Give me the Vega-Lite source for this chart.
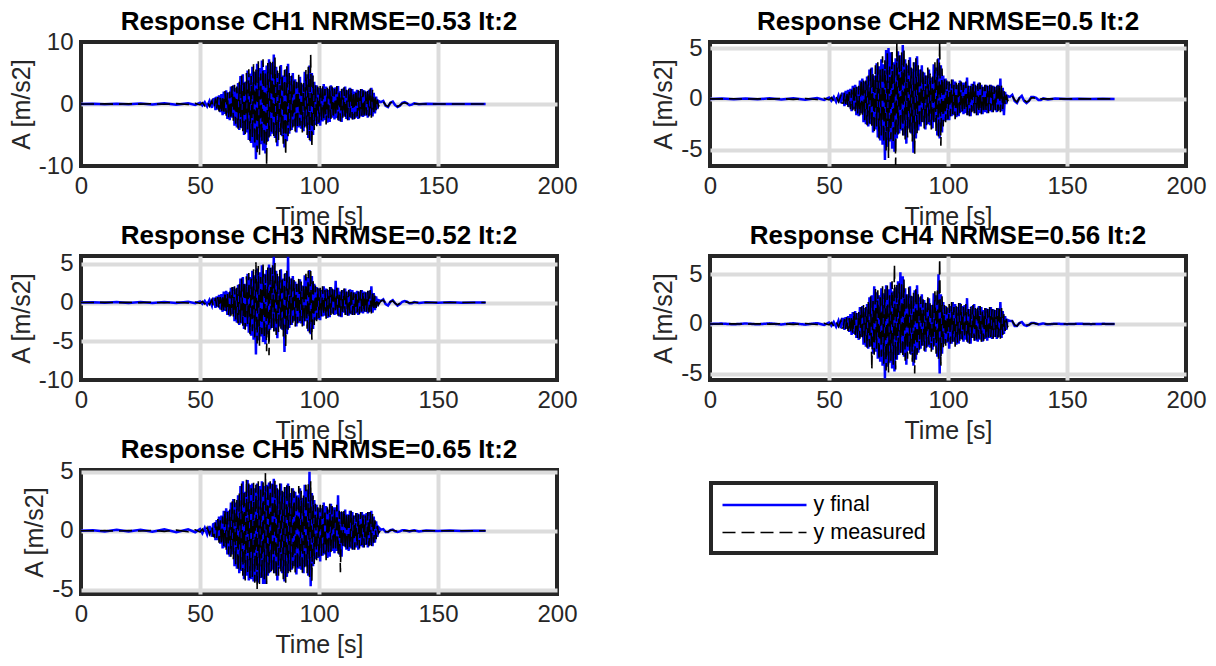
{
"$schema": "https://vega.github.io/schema/vega-lite/v6.json",
"padding": {"left": 7, "top": 7, "right": 5, "bottom": 5},
"background": "white",
"config": {
 "font": "Liberation Sans",
 "view": {"stroke": "#262626", "strokeWidth": 4},
 "axis": {"domain": false, "ticks": false, "grid": true, "gridColor": "#dcdcdc", "gridWidth": 4, "labelFontSize": 24, "labelColor": "#262626", "labelFont": "Liberation Sans", "titleFont": "Liberation Sans", "titleFontSize": 25, "titleFontWeight": "normal", "titleColor": "#262626"},
 "axisX": {"labelPadding": 8, "titlePadding": 6, "labelFlush": false},
 "axisY": {"labelPadding": 8, "titlePadding": 4},
 "title": {"fontSize": 26, "fontWeight": "bold", "color": "#000000", "offset": -5, "anchor": "middle", "frame": "group", "font": "Liberation Sans"}
},
"columns": 2,
"spacing": {"row": 90, "column": 153},
"bounds": "flush",
"datasets": {
"d": [
{"t":0,"f1":0,"m1":0,"f2":0,"m2":0,"f3":0,"m3":0,"f4":0,"m4":0,"f5":0,"m5":0},
{"t":5,"f1":0.05,"m1":0,"f2":0.04,"m2":0,"f3":0.04,"m3":0,"f4":0.04,"m4":0,"f5":0.05,"m5":0},
{"t":10,"f1":-0.05,"m1":0.02,"f2":-0.04,"m2":0.02,"f3":-0.04,"m3":0.02,"f4":-0.04,"m4":0.02,"f5":-0.06,"m5":0.02},
{"t":15,"f1":0.06,"m1":-0.03,"f2":0.05,"m2":-0.02,"f3":0.05,"m3":-0.02,"f4":0.05,"m4":-0.02,"f5":0.08,"m5":-0.03},
{"t":20,"f1":-0.05,"m1":0.03,"f2":-0.04,"m2":0.02,"f3":-0.05,"m3":0.02,"f4":-0.04,"m4":0.02,"f5":-0.06,"m5":0.03},
{"t":25,"f1":0.08,"m1":-0.02,"f2":0.06,"m2":-0.02,"f3":0.06,"m3":-0.02,"f4":0.06,"m4":-0.02,"f5":0.08,"m5":-0.02},
{"t":30,"f1":-0.06,"m1":0.04,"f2":-0.05,"m2":0.03,"f3":-0.05,"m3":0.03,"f4":-0.05,"m4":0.03,"f5":-0.07,"m5":0.04},
{"t":35,"f1":0.1,"m1":-0.05,"f2":0.07,"m2":-0.04,"f3":0.07,"m3":-0.04,"f4":0.07,"m4":-0.04,"f5":0.12,"m5":-0.05},
{"t":40,"f1":-0.1,"m1":0.06,"f2":-0.07,"m2":0.04,"f3":-0.07,"m3":0.04,"f4":-0.07,"m4":0.04,"f5":-0.12,"m5":0.06},
{"t":45,"f1":0.12,"m1":-0.08,"f2":0.08,"m2":-0.06,"f3":0.08,"m3":-0.06,"f4":0.08,"m4":-0.06,"f5":0.12,"m5":-0.08},
{"t":48,"f1":-0.15,"m1":0.1,"f2":-0.1,"m2":0.07,"f3":-0.1,"m3":0.07,"f4":-0.1,"m4":0.07,"f5":-0.12,"m5":0.08},
{"t":50,"f1":0.2,"m1":-0.15,"f2":0.14,"m2":-0.1,"f3":0.14,"m3":-0.1,"f4":0.14,"m4":-0.1,"f5":0.15,"m5":-0.1},
{"t":51,"f1":-0.25,"m1":0.2,"f2":-0.18,"m2":0.14,"f3":-0.18,"m3":0.14,"f4":-0.18,"m4":0.14,"f5":-0.2,"m5":0.15},
{"t":52,"f1":0.3,"m1":-0.3,"f2":0.2,"m2":-0.2,"f3":0.2,"m3":-0.2,"f4":0.2,"m4":-0.2,"f5":0.25,"m5":-0.2},
{"t":53,"f1":-0.4,"m1":0.35,"f2":-0.28,"m2":0.25,"f3":-0.28,"m3":0.25,"f4":-0.28,"m4":0.25,"f5":-0.3,"m5":0.28},
{"t":54,"f1":0.5,"m1":-0.4,"f2":0.35,"m2":-0.28,"f3":0.35,"m3":-0.28,"f4":0.35,"m4":-0.28,"f5":0.4,"m5":-0.3},
{"t":55,"f1":-0.6,"m1":0.5,"f2":-0.42,"m2":0.35,"f3":-0.42,"m3":0.35,"f4":-0.42,"m4":0.35,"f5":-0.5,"m5":0.4},
{"t":55.5,"f1":0.7,"m1":-0.6,"f2":0.5,"m2":-0.42,"f3":0.5,"m3":-0.42,"f4":0.5,"m4":-0.42,"f5":0.55,"m5":-0.45},
{"t":56,"f1":0.8,"m1":-0.6,"f2":0.5,"m2":-0.4,"f3":0.5,"m3":-0.4,"f4":0.5,"m4":-0.4,"f5":0.6,"m5":-0.5},
{"t":56.5,"f1":-1.0,"m1":0.9,"f2":-0.7,"m2":0.6,"f3":-0.7,"m3":0.6,"f4":-0.6,"m4":0.5,"f5":-0.8,"m5":0.7},
{"t":57,"f1":1.2,"m1":-0.8,"f2":0.8,"m2":-0.5,"f3":0.8,"m3":-0.5,"f4":0.7,"m4":-0.5,"f5":0.9,"m5":-0.6},
{"t":57.5,"f1":-0.9,"m1":1.1,"f2":-0.6,"m2":0.7,"f3":-0.6,"m3":0.7,"f4":-0.5,"m4":0.7,"f5":-0.8,"m5":1.0},
{"t":58,"f1":1.4,"m1":-1.2,"f2":0.9,"m2":-0.8,"f3":1.0,"m3":-0.8,"f4":0.8,"m4":-0.7,"f5":1.2,"m5":-1.0},
{"t":58.5,"f1":-1.3,"m1":1.0,"f2":-0.8,"m2":0.7,"f3":-0.9,"m3":0.7,"f4":-0.8,"m4":0.6,"f5":-1.1,"m5":0.9},
{"t":59,"f1":1.6,"m1":-1.5,"f2":1.0,"m2":-1.0,"f3":1.1,"m3":-1.0,"f4":1.0,"m4":-0.9,"f5":1.3,"m5":-1.2},
{"t":59.5,"f1":-1.8,"m1":1.4,"f2":-1.2,"m2":0.9,"f3":-1.2,"m3":1.0,"f4":-1.1,"m4":0.8,"f5":-1.5,"m5":1.2},
{"t":60,"f1":2.0,"m1":-1.7,"f2":1.3,"m2":-1.1,"f3":1.4,"m3":-1.2,"f4":1.2,"m4":-1.0,"f5":1.7,"m5":-1.4},
{"t":60.5,"f1":-1.6,"m1":2.1,"f2":-1.0,"m2":1.4,"f3":-1.1,"m3":1.4,"f4":-1.0,"m4":1.3,"f5":-1.4,"m5":1.8},
{"t":61,"f1":2.2,"m1":-1.9,"f2":1.4,"m2":-1.2,"f3":1.5,"m3":-1.3,"f4":1.3,"m4":-1.1,"f5":1.9,"m5":-1.6},
{"t":61.5,"f1":-2.4,"m1":1.8,"f2":-1.6,"m2":1.2,"f3":-1.6,"m3":1.2,"f4":-1.4,"m4":1.1,"f5":-2.0,"m5":1.6},
{"t":62,"f1":1.9,"m1":-2.3,"f2":1.2,"m2":-1.5,"f3":1.3,"m3":-1.6,"f4":1.1,"m4":-1.4,"f5":1.7,"m5":-2.0},
{"t":62.5,"f1":-2.6,"m1":2.0,"f2":-1.7,"m2":1.3,"f3":-1.8,"m3":1.4,"f4":-1.6,"m4":1.2,"f5":-2.2,"m5":1.8},
{"t":63,"f1":2.8,"m1":-2.5,"f2":1.8,"m2":-1.6,"f3":1.9,"m3":-1.7,"f4":1.7,"m4":-1.5,"f5":2.4,"m5":-2.2},
{"t":63.5,"f1":-2.2,"m1":2.9,"f2":-1.4,"m2":1.9,"f3":-1.5,"m3":2.0,"f4":-1.3,"m4":1.7,"f5":-2.0,"m5":2.5},
{"t":64,"f1":3.0,"m1":-2.7,"f2":2.0,"m2":-1.8,"f3":2.0,"m3":-1.8,"f4":1.8,"m4":-1.6,"f5":2.7,"m5":-2.4},
{"t":64.5,"f1":-3.5,"m1":3.1,"f2":-2.3,"m2":2.0,"f3":-2.4,"m3":2.1,"f4":-2.1,"m4":1.9,"f5":-3.0,"m5":2.7},
{"t":65,"f1":2.6,"m1":-3.2,"f2":1.7,"m2":-2.1,"f3":1.8,"m3":-2.2,"f4":1.6,"m4":-1.9,"f5":2.4,"m5":-2.9},
{"t":65.5,"f1":-3.8,"m1":2.8,"f2":-2.5,"m2":1.8,"f3":-2.6,"m3":1.9,"f4":-2.3,"m4":1.7,"f5":-3.2,"m5":2.6},
{"t":66,"f1":3.4,"m1":-4.0,"f2":2.2,"m2":-2.6,"f3":2.3,"m3":-2.7,"f4":2.0,"m4":-2.4,"f5":3.0,"m5":-3.4},
{"t":66.5,"f1":-4.2,"m1":3.6,"f2":-2.7,"m2":2.3,"f3":-2.9,"m3":2.4,"f4":-2.5,"m4":2.2,"f5":-3.6,"m5":3.2},
{"t":67,"f1":4.5,"m1":-3.8,"f2":2.9,"m2":-2.5,"f3":3.1,"m3":-2.6,"f4":2.7,"m4":-2.3,"f5":3.8,"m5":-3.3},
{"t":67.5,"f1":-3.9,"m1":4.6,"f2":-2.5,"m2":3.0,"f3":-2.7,"m3":3.1,"f4":-2.3,"m4":2.8,"f5":-3.4,"m5":4.0},
{"t":68,"f1":4.8,"m1":-4.4,"f2":3.1,"m2":-2.9,"f3":3.3,"m3":-3.0,"f4":2.9,"m4":-4.6,"f5":4.2,"m5":-3.8},
{"t":68.5,"f1":-5.0,"m1":3.9,"f2":-3.3,"m2":2.5,"f3":-3.4,"m3":2.7,"f4":-3.0,"m4":2.3,"f5":-4.1,"m5":3.4},
{"t":69,"f1":3.6,"m1":-5.2,"f2":2.3,"m2":-3.4,"f3":2.4,"m3":-3.5,"f4":3.8,"m4":-3.1,"f5":3.3,"m5":-4.2},
{"t":69.5,"f1":-4.6,"m1":5.0,"f2":-3.0,"m2":3.3,"f3":-3.1,"m3":3.4,"f4":-2.8,"m4":3.7,"f5":-3.8,"m5":4.4},
{"t":70,"f1":5.4,"m1":-4.1,"f2":3.5,"m2":-2.7,"f3":3.7,"m3":-2.8,"f4":3.2,"m4":-2.5,"f5":4.3,"m5":-3.6},
{"t":70.5,"f1":-5.8,"m1":5.6,"f2":-3.8,"m2":3.6,"f3":-3.9,"m3":3.8,"f4":-3.5,"m4":3.4,"f5":-4.2,"m5":4.0},
{"t":71,"f1":4.9,"m1":-6.0,"f2":3.2,"m2":-3.9,"f3":3.3,"m3":-4.1,"f4":2.9,"m4":-3.6,"f5":3.9,"m5":-4.0},
{"t":71.5,"f1":-6.3,"m1":4.5,"f2":-4.1,"m2":2.9,"f3":-4.3,"m3":3.1,"f4":-3.8,"m4":2.7,"f5":-4.1,"m5":3.6},
{"t":72,"f1":6.0,"m1":-5.5,"f2":3.9,"m2":-3.6,"f3":4.1,"m3":-3.7,"f4":3.6,"m4":-3.3,"f5":4.0,"m5":-3.9},
{"t":72.5,"f1":-7.0,"m1":6.4,"f2":-4.5,"m2":4.2,"f3":-4.8,"m3":4.3,"f4":-4.2,"m4":3.8,"f5":-4.3,"m5":4.1},
{"t":73,"f1":5.2,"m1":-6.6,"f2":3.4,"m2":-4.3,"f3":3.5,"m3":-4.5,"f4":3.1,"m4":-4.0,"f5":3.6,"m5":-4.4},
{"t":73.5,"f1":-8.9,"m1":5.8,"f2":-6.0,"m2":3.8,"f3":-6.7,"m3":5.2,"f4":-5.5,"m4":3.5,"f5":-4.3,"m5":3.9},
{"t":74,"f1":6.5,"m1":-7.8,"f2":4.8,"m2":-5.1,"f3":4.4,"m3":-5.3,"f4":3.9,"m4":-4.7,"f5":4.0,"m5":-5.0},
{"t":74.5,"f1":-7.2,"m1":6.9,"f2":-4.7,"m2":4.5,"f3":-4.9,"m3":4.7,"f4":-4.3,"m4":4.1,"f5":-4.4,"m5":4.2},
{"t":75,"f1":5.8,"m1":-8.2,"f2":5.0,"m2":-5.8,"f3":3.9,"m3":-5.6,"f4":3.5,"m4":-4.9,"f5":3.8,"m5":-4.5},
{"t":75.5,"f1":-6.5,"m1":4.9,"f2":-4.2,"m2":3.2,"f3":-4.4,"m3":3.3,"f4":-3.9,"m4":2.9,"f5":-4.0,"m5":3.5},
{"t":76,"f1":7.0,"m1":-6.1,"f2":4.6,"m2":-4.0,"f3":4.8,"m3":-4.1,"f4":4.2,"m4":-3.7,"f5":4.2,"m5":-4.0},
{"t":76.5,"f1":-7.5,"m1":7.2,"f2":-4.9,"m2":4.7,"f3":-5.1,"m3":4.9,"f4":-4.5,"m4":4.3,"f5":-4.5,"m5":4.3},
{"t":77,"f1":5.5,"m1":-6.8,"f2":3.6,"m2":-4.4,"f3":3.7,"m3":-4.6,"f4":3.3,"m4":-4.1,"f5":3.8,"m5":-4.1},
{"t":77.5,"f1":-8.0,"m1":5.3,"f2":-5.2,"m2":3.4,"f3":-5.4,"m3":3.6,"f4":-4.8,"m4":6.0,"f5":-4.5,"m5":4.9},
{"t":78,"f1":6.2,"m1":-9.9,"f2":4.0,"m2":-6.5,"f3":4.2,"m3":-6.3,"f4":3.7,"m4":-4.6,"f5":3.9,"m5":-4.5},
{"t":78.5,"f1":-6.0,"m1":6.6,"f2":-3.9,"m2":5.5,"f3":-4.1,"m3":4.5,"f4":-3.6,"m4":4.0,"f5":-3.8,"m5":4.0},
{"t":79,"f1":7.2,"m1":-5.4,"f2":4.7,"m2":-3.5,"f3":4.9,"m3":-6.8,"f4":4.3,"m4":-3.2,"f5":4.1,"m5":-3.6},
{"t":79.5,"f1":-5.2,"m1":6.8,"f2":-3.4,"m2":4.4,"f3":-3.5,"m3":4.6,"f4":-3.1,"m4":4.1,"f5":-3.5,"m5":4.2},
{"t":80,"f1":6.6,"m1":-4.9,"f2":4.3,"m2":-3.2,"f3":4.5,"m3":-3.3,"f4":5.2,"m4":-2.9,"f5":4.0,"m5":-3.4},
{"t":80.5,"f1":-4.8,"m1":7.0,"f2":-3.1,"m2":4.6,"f3":-3.3,"m3":4.8,"f4":-2.9,"m4":4.2,"f5":-3.3,"m5":4.2},
{"t":81,"f1":8.0,"m1":-5.6,"f2":5.3,"m2":-3.6,"f3":5.9,"m3":-3.8,"f4":4.8,"m4":-3.4,"f5":4.4,"m5":-3.7},
{"t":81.5,"f1":-5.5,"m1":7.5,"f2":-3.6,"m2":4.9,"f3":-3.7,"m3":5.1,"f4":-3.3,"m4":4.5,"f5":-3.6,"m5":4.3},
{"t":82,"f1":6.0,"m1":-6.2,"f2":3.9,"m2":-4.0,"f3":4.1,"m3":-4.2,"f4":3.6,"m4":-3.7,"f5":3.9,"m5":-4.0},
{"t":82.5,"f1":-6.8,"m1":5.4,"f2":-4.4,"m2":3.5,"f3":-4.6,"m3":3.7,"f4":-4.1,"m4":3.2,"f5":-4.2,"m5":3.6},
{"t":83,"f1":5.0,"m1":-5.8,"f2":3.3,"m2":-3.8,"f3":3.4,"m3":-3.9,"f4":3.0,"m4":-3.5,"f5":3.5,"m5":-3.8},
{"t":83.5,"f1":-4.5,"m1":6.2,"f2":-2.9,"m2":4.0,"f3":-3.1,"m3":4.2,"f4":-2.7,"m4":3.7,"f5":-3.2,"m5":4.0},
{"t":84,"f1":6.3,"m1":-5.0,"f2":4.1,"m2":-3.3,"f3":4.3,"m3":-3.4,"f4":3.8,"m4":-3.0,"f5":4.0,"m5":-3.5},
{"t":84.5,"f1":-5.2,"m1":4.8,"f2":-3.4,"m2":3.1,"f3":-3.5,"m3":3.3,"f4":-3.1,"m4":2.9,"f5":-3.6,"m5":3.4},
{"t":85,"f1":4.6,"m1":-6.4,"f2":3.0,"m2":-4.2,"f3":3.1,"m3":-4.4,"f4":2.8,"m4":-3.8,"f5":3.3,"m5":-4.1},
{"t":85.5,"f1":-7.0,"m1":5.5,"f2":-5.3,"m2":3.6,"f3":-6.4,"m3":3.7,"f4":-4.2,"m4":3.3,"f5":-4.3,"m5":3.7},
{"t":86,"f1":5.6,"m1":-8.3,"f2":3.6,"m2":-5.4,"f3":3.8,"m3":-5.6,"f4":3.4,"m4":-5.0,"f5":3.7,"m5":-4.4},
{"t":86.5,"f1":-6.0,"m1":6.1,"f2":-3.9,"m2":4.0,"f3":-4.1,"m3":4.1,"f4":-3.6,"m4":3.7,"f5":-3.9,"m5":4.0},
{"t":87,"f1":6.5,"m1":-5.2,"f2":4.2,"m2":-3.4,"f3":5.9,"m3":-3.5,"f4":3.9,"m4":-3.1,"f5":4.0,"m5":-3.6},
{"t":87.5,"f1":-4.8,"m1":5.0,"f2":-3.1,"m2":3.3,"f3":-3.3,"m3":3.4,"f4":-2.9,"m4":3.0,"f5":-3.4,"m5":3.8},
{"t":88,"f1":4.5,"m1":-4.3,"f2":2.9,"m2":-2.8,"f3":3.1,"m3":-2.9,"f4":2.7,"m4":-2.6,"f5":3.2,"m5":-3.5},
{"t":88.5,"f1":-4.2,"m1":4.6,"f2":-2.7,"m2":3.0,"f3":-2.9,"m3":3.1,"f4":-2.5,"m4":2.8,"f5":-3.3,"m5":3.6},
{"t":89,"f1":5.0,"m1":-3.8,"f2":3.3,"m2":-2.5,"f3":3.4,"m3":-2.6,"f4":3.0,"m4":-2.3,"f5":3.6,"m5":-3.2},
{"t":89.5,"f1":-3.6,"m1":4.2,"f2":-2.3,"m2":2.7,"f3":-2.4,"m3":2.9,"f4":-2.2,"m4":2.5,"f5":-3.0,"m5":3.4},
{"t":90,"f1":4.0,"m1":-4.5,"f2":2.6,"m2":-2.9,"f3":2.7,"m3":-3.1,"f4":2.4,"m4":-2.7,"f5":3.3,"m5":-3.6},
{"t":90.5,"f1":-4.6,"m1":3.6,"f2":-3.0,"m2":2.3,"f3":-3.1,"m3":2.4,"f4":-2.8,"m4":2.2,"f5":-3.7,"m5":3.1},
{"t":91,"f1":3.5,"m1":-4.0,"f2":2.3,"m2":-2.6,"f3":2.4,"m3":-2.7,"f4":2.1,"m4":-2.4,"f5":3.0,"m5":-3.3},
{"t":91.5,"f1":-3.8,"m1":4.8,"f2":-2.5,"m2":3.1,"f3":-2.6,"m3":3.3,"f4":-2.3,"m4":2.9,"f5":-3.2,"m5":3.8},
{"t":92,"f1":4.4,"m1":-3.5,"f2":2.9,"m2":-2.3,"f3":3.0,"m3":-2.4,"f4":2.6,"m4":-2.1,"f5":3.6,"m5":-3.0},
{"t":92.5,"f1":-4.0,"m1":3.9,"f2":-2.6,"m2":2.5,"f3":-2.7,"m3":2.7,"f4":-2.4,"m4":2.3,"f5":-3.3,"m5":3.4},
{"t":93,"f1":3.2,"m1":-4.6,"f2":2.1,"m2":-3.0,"f3":2.2,"m3":-3.1,"f4":1.9,"m4":-2.8,"f5":2.8,"m5":-3.7},
{"t":93.5,"f1":-4.4,"m1":3.4,"f2":-2.9,"m2":2.2,"f3":-3.0,"m3":2.3,"f4":-2.6,"m4":2.0,"f5":-3.6,"m5":3.0},
{"t":94,"f1":5.2,"m1":-3.8,"f2":3.4,"m2":-2.5,"f3":3.5,"m3":-2.6,"f4":3.1,"m4":-2.3,"f5":3.9,"m5":-3.2},
{"t":94.5,"f1":-3.6,"m1":5.5,"f2":-2.3,"m2":3.6,"f3":-2.4,"m3":3.7,"f4":-2.2,"m4":3.3,"f5":-3.0,"m5":3.9},
{"t":95,"f1":4.8,"m1":-5.0,"f2":3.1,"m2":-3.3,"f3":3.3,"m3":-3.4,"f4":2.9,"m4":-3.0,"f5":3.5,"m5":-3.6},
{"t":95.5,"f1":-5.5,"m1":6.0,"f2":-3.6,"m2":3.9,"f3":-3.7,"m3":4.1,"f4":-3.3,"m4":3.6,"f5":-3.8,"m5":4.0},
{"t":96,"f1":6.2,"m1":-5.8,"f2":4.0,"m2":-3.8,"f3":4.2,"m3":-3.9,"f4":5.0,"m4":-3.5,"f5":5.0,"m5":-3.9},
{"t":96.5,"f1":-6.0,"m1":8.0,"f2":-3.9,"m2":5.6,"f3":-4.1,"m3":4.3,"f4":-5.0,"m4":6.6,"f5":-4.7,"m5":4.2},
{"t":97,"f1":5.0,"m1":-7.0,"f2":3.3,"m2":-4.6,"f3":3.4,"m3":-4.8,"f4":3.0,"m4":-4.2,"f5":3.2,"m5":-4.3},
{"t":97.5,"f1":-5.0,"m1":4.6,"f2":-3.3,"m2":3.0,"f3":-3.4,"m3":3.1,"f4":-3.0,"m4":2.8,"f5":-3.0,"m5":3.0},
{"t":98,"f1":3.6,"m1":-4.2,"f2":2.3,"m2":-2.7,"f3":2.4,"m3":-2.9,"f4":2.2,"m4":-2.5,"f5":2.6,"m5":-2.8},
{"t":98.5,"f1":-3.4,"m1":3.2,"f2":-2.2,"m2":2.1,"f3":-2.3,"m3":2.2,"f4":-2.0,"m4":1.9,"f5":-2.4,"m5":2.3},
{"t":99,"f1":3.0,"m1":-3.6,"f2":2.0,"m2":-2.3,"f3":2.0,"m3":-2.4,"f4":1.8,"m4":-2.2,"f5":2.2,"m5":-2.5},
{"t":99.5,"f1":-3.2,"m1":2.8,"f2":-2.1,"m2":1.8,"f3":-2.2,"m3":1.9,"f4":-1.9,"m4":1.7,"f5":-2.3,"m5":2.0},
{"t":100,"f1":2.6,"m1":-3.0,"f2":1.7,"m2":-2.0,"f3":1.8,"m3":-2.0,"f4":1.6,"m4":-1.8,"f5":1.9,"m5":-2.2},
{"t":100.5,"f1":-3.5,"m1":2.9,"f2":-2.1,"m2":1.7,"f3":-2.3,"m3":1.9,"f4":-2.5,"m4":2.0,"f5":-2.6,"m5":2.2},
{"t":101,"f1":2.5,"m1":-2.8,"f2":1.5,"m2":-1.7,"f3":1.6,"m3":-1.8,"f4":1.8,"m4":-2.0,"f5":1.9,"m5":-2.1},
{"t":101.5,"f1":-2.8,"m1":3.2,"f2":-1.7,"m2":1.9,"f3":-1.8,"m3":2.1,"f4":-2.0,"m4":2.2,"f5":-2.1,"m5":2.4},
{"t":102,"f1":3.2,"m1":-2.5,"f2":1.9,"m2":-1.5,"f3":2.1,"m3":-1.6,"f4":2.2,"m4":-1.8,"f5":2.4,"m5":-1.9},
{"t":102.5,"f1":-2.6,"m1":2.4,"f2":-1.6,"m2":1.4,"f3":-1.7,"m3":1.6,"f4":-1.8,"m4":1.7,"f5":-2.0,"m5":1.8},
{"t":103,"f1":2.8,"m1":-3.3,"f2":1.7,"m2":-2.0,"f3":1.8,"m3":-2.1,"f4":2.0,"m4":-2.3,"f5":2.1,"m5":-2.5},
{"t":103.5,"f1":-3.0,"m1":2.6,"f2":-1.8,"m2":1.6,"f3":-2.0,"m3":1.7,"f4":-2.1,"m4":1.8,"f5":-2.3,"m5":2.0},
{"t":104,"f1":2.4,"m1":-2.7,"f2":1.4,"m2":-1.6,"f3":1.6,"m3":-1.8,"f4":1.7,"m4":-1.9,"f5":1.8,"m5":-2.0},
{"t":104.5,"f1":-2.9,"m1":3.0,"f2":-1.7,"m2":1.8,"f3":-1.9,"m3":2.0,"f4":-2.0,"m4":2.1,"f5":-2.2,"m5":2.3},
{"t":105,"f1":3.0,"m1":-2.4,"f2":1.8,"m2":-1.4,"f3":2.0,"m3":-1.6,"f4":2.1,"m4":-1.7,"f5":2.3,"m5":-1.8},
{"t":105.5,"f1":-2.2,"m1":2.8,"f2":-1.3,"m2":1.7,"f3":-1.4,"m3":1.8,"f4":-1.5,"m4":2.0,"f5":-1.7,"m5":2.1},
{"t":106,"f1":2.6,"m1":-2.3,"f2":1.6,"m2":-1.4,"f3":1.7,"m3":-1.5,"f4":1.8,"m4":-1.6,"f5":2.0,"m5":-1.7},
{"t":106.5,"f1":-2.5,"m1":2.4,"f2":-1.5,"m2":1.4,"f3":-1.6,"m3":1.6,"f4":-1.8,"m4":1.7,"f5":-1.9,"m5":1.8},
{"t":107,"f1":2.7,"m1":-2.0,"f2":1.6,"m2":-1.2,"f3":2.8,"m3":-1.3,"f4":1.9,"m4":-1.4,"f5":2.0,"m5":-1.5},
{"t":107.5,"f1":-2.3,"m1":2.9,"f2":-1.4,"m2":1.7,"f3":-1.5,"m3":1.9,"f4":-1.6,"m4":2.0,"f5":-1.7,"m5":2.2},
{"t":108,"f1":2.9,"m1":-2.6,"f2":2.1,"m2":-1.6,"f3":1.9,"m3":-1.7,"f4":2.6,"m4":-1.8,"f5":3.0,"m5":-2.0},
{"t":108.5,"f1":-2.7,"m1":2.2,"f2":-1.6,"m2":1.3,"f3":-1.8,"m3":1.4,"f4":-1.9,"m4":1.5,"f5":-2.0,"m5":1.7},
{"t":109,"f1":2.1,"m1":-2.8,"f2":1.3,"m2":-1.7,"f3":1.4,"m3":-1.8,"f4":1.5,"m4":-2.0,"f5":1.6,"m5":-3.5},
{"t":109.5,"f1":-2.9,"m1":2.4,"f2":-1.7,"m2":1.4,"f3":-1.9,"m3":1.6,"f4":-2.0,"m4":1.7,"f5":-2.2,"m5":1.8},
{"t":110,"f1":2.5,"m1":-2.2,"f2":1.5,"m2":-1.3,"f3":1.6,"m3":-1.4,"f4":1.8,"m4":-1.5,"f5":1.6,"m5":-1.4},
{"t":110.5,"f1":-2.0,"m1":2.7,"f2":-1.2,"m2":1.6,"f3":-1.3,"m3":1.8,"f4":-1.4,"m4":1.9,"f5":-1.3,"m5":1.8},
{"t":111,"f1":2.8,"m1":-2.4,"f2":1.7,"m2":-1.4,"f3":1.8,"m3":-1.6,"f4":2.0,"m4":-1.7,"f5":1.8,"m5":-1.6},
{"t":111.5,"f1":-2.4,"m1":2.3,"f2":-1.4,"m2":1.4,"f3":-1.6,"m3":1.5,"f4":-1.7,"m4":1.6,"f5":-1.6,"m5":1.5},
{"t":112,"f1":2.2,"m1":-2.6,"f2":1.3,"m2":-1.6,"f3":1.4,"m3":-1.7,"f4":1.5,"m4":-1.8,"f5":1.4,"m5":-1.7},
{"t":112.5,"f1":-2.6,"m1":2.5,"f2":-1.6,"m2":1.5,"f3":-1.7,"m3":1.6,"f4":-1.8,"m4":1.8,"f5":-1.7,"m5":1.6},
{"t":113,"f1":2.6,"m1":-2.1,"f2":1.6,"m2":-1.3,"f3":1.7,"m3":-1.4,"f4":1.8,"m4":-1.5,"f5":1.7,"m5":-1.4},
{"t":113.5,"f1":-2.3,"m1":2.6,"f2":-1.4,"m2":1.6,"f3":-1.5,"m3":1.7,"f4":-1.6,"m4":1.8,"f5":-1.5,"m5":1.7},
{"t":114,"f1":2.4,"m1":-2.5,"f2":1.4,"m2":-1.5,"f3":1.6,"m3":-1.6,"f4":1.7,"m4":-1.8,"f5":1.6,"m5":-1.6},
{"t":114.5,"f1":-2.5,"m1":2.0,"f2":-1.5,"m2":1.2,"f3":-1.6,"m3":1.3,"f4":-1.8,"m4":1.4,"f5":-1.6,"m5":1.3},
{"t":115,"f1":2.0,"m1":-2.4,"f2":1.2,"m2":-1.4,"f3":1.3,"m3":-1.6,"f4":1.4,"m4":-1.7,"f5":1.3,"m5":-1.6},
{"t":115.5,"f1":-2.2,"m1":2.3,"f2":-1.3,"m2":1.4,"f3":-1.4,"m3":1.5,"f4":-1.5,"m4":1.6,"f5":-1.4,"m5":1.5},
{"t":116,"f1":2.3,"m1":-2.0,"f2":1.4,"m2":-1.2,"f3":1.5,"m3":-1.3,"f4":1.6,"m4":-1.4,"f5":1.5,"m5":-1.3},
{"t":116.5,"f1":-2.4,"m1":2.2,"f2":-1.4,"m2":1.3,"f3":-1.6,"m3":1.4,"f4":-1.7,"m4":1.5,"f5":-1.6,"m5":1.4},
{"t":117,"f1":2.1,"m1":-2.3,"f2":1.3,"m2":-1.4,"f3":1.4,"m3":-1.5,"f4":1.5,"m4":-1.6,"f5":1.4,"m5":-1.5},
{"t":117.5,"f1":-2.0,"m1":2.4,"f2":-1.2,"m2":1.4,"f3":-1.3,"m3":1.6,"f4":-1.4,"m4":1.7,"f5":-1.3,"m5":1.6},
{"t":118,"f1":2.4,"m1":-1.9,"f2":1.4,"m2":-1.1,"f3":1.6,"m3":-1.2,"f4":1.7,"m4":-1.3,"f5":1.6,"m5":-1.2},
{"t":118.5,"f1":-2.1,"m1":2.2,"f2":-1.3,"m2":1.3,"f3":-1.4,"m3":1.4,"f4":-1.5,"m4":1.5,"f5":-1.4,"m5":1.4},
{"t":119,"f1":2.2,"m1":-2.2,"f2":1.3,"m2":-1.3,"f3":1.4,"m3":-1.4,"f4":1.5,"m4":-1.5,"f5":1.4,"m5":-1.4},
{"t":119.5,"f1":-1.9,"m1":2.0,"f2":-1.1,"m2":1.2,"f3":-1.2,"m3":1.3,"f4":-1.3,"m4":1.4,"f5":-1.2,"m5":1.3},
{"t":120,"f1":2.0,"m1":-1.8,"f2":1.2,"m2":-1.1,"f3":1.3,"m3":-1.2,"f4":1.4,"m4":-1.3,"f5":1.5,"m5":-1.2},
{"t":120.5,"f1":-2.2,"m1":2.3,"f2":-1.3,"m2":1.4,"f3":-1.4,"m3":1.5,"f4":-1.5,"m4":1.6,"f5":-1.4,"m5":1.6},
{"t":121,"f1":2.3,"m1":-2.0,"f2":1.4,"m2":-1.2,"f3":1.5,"m3":-1.3,"f4":1.6,"m4":-1.4,"f5":1.6,"m5":-1.3},
{"t":121.5,"f1":-1.8,"m1":2.5,"f2":-1.1,"m2":1.5,"f3":-1.2,"m3":1.6,"f4":-1.3,"m4":1.8,"f5":-1.2,"m5":1.6},
{"t":122,"f1":2.6,"m1":-2.2,"f2":2.0,"m2":-1.3,"f3":2.1,"m3":-1.4,"f4":2.2,"m4":-1.5,"f5":1.7,"m5":-1.4},
{"t":122.5,"f1":-2.0,"m1":2.3,"f2":-1.2,"m2":1.4,"f3":-1.3,"m3":1.5,"f4":-1.4,"m4":1.6,"f5":-1.3,"m5":1.5},
{"t":123,"f1":1.8,"m1":-1.6,"f2":1.1,"m2":-1.0,"f3":1.2,"m3":-1.0,"f4":1.3,"m4":-1.1,"f5":1.2,"m5":-1.0},
{"t":123.5,"f1":-1.5,"m1":1.4,"f2":-1.6,"m2":0.8,"f3":-1.0,"m3":0.9,"f4":-1.0,"m4":1.0,"f5":-1.0,"m5":0.9},
{"t":124,"f1":1.2,"m1":-1.0,"f2":0.7,"m2":-0.6,"f3":0.8,"m3":-0.7,"f4":0.8,"m4":-0.7,"f5":0.8,"m5":-0.7},
{"t":124.5,"f1":-0.8,"m1":0.7,"f2":-0.5,"m2":0.4,"f3":-0.5,"m3":0.5,"f4":-0.6,"m4":0.5,"f5":-0.5,"m5":0.4},
{"t":125,"f1":0.5,"m1":-0.4,"f2":0.3,"m2":-0.2,"f3":0.3,"m3":-0.3,"f4":0.4,"m4":-0.3,"f5":0.3,"m5":-0.2},
{"t":126,"f1":0.3,"m1":0.3,"f2":0.2,"m2":0.2,"f3":0.2,"m3":0.2,"f4":0.3,"m4":0.2,"f5":0.1,"m5":0.1},
{"t":127,"f1":0.5,"m1":0.4,"f2":0.4,"m2":0.3,"f3":0.4,"m3":0.3,"f4":0.3,"m4":0.3,"f5":0.15,"m5":0.1},
{"t":128,"f1":-0.3,"m1":-0.2,"f2":-0.2,"m2":-0.1,"f3":-0.2,"m3":-0.1,"f4":-0.2,"m4":-0.1,"f5":-0.1,"m5":-0.05},
{"t":129,"f1":-0.5,"m1":-0.4,"f2":-0.4,"m2":-0.3,"f3":-0.4,"m3":-0.3,"f4":-0.2,"m4":-0.2,"f5":-0.1,"m5":-0.1},
{"t":130,"f1":0.2,"m1":0.2,"f2":0.1,"m2":0.1,"f3":0.1,"m3":0.1,"f4":0.1,"m4":0.1,"f5":0.05,"m5":0.05},
{"t":131,"f1":0.4,"m1":0.3,"f2":0.3,"m2":0.2,"f3":0.3,"m3":0.2,"f4":0.2,"m4":0.1,"f5":0.1,"m5":0.05},
{"t":132,"f1":-0.2,"m1":-0.1,"f2":-0.2,"m2":-0.1,"f3":-0.1,"m3":-0.1,"f4":-0.1,"m4":-0.05,"f5":-0.05,"m5":0},
{"t":133,"f1":-0.5,"m1":-0.4,"f2":-0.4,"m2":-0.3,"f3":-0.4,"m3":-0.3,"f4":-0.2,"m4":-0.1,"f5":-0.1,"m5":-0.05},
{"t":134,"f1":-0.3,"m1":-0.2,"f2":-0.2,"m2":-0.2,"f3":-0.2,"m3":-0.1,"f4":-0.1,"m4":-0.1,"f5":-0.05,"m5":0},
{"t":135,"f1":0.2,"m1":0.1,"f2":0.2,"m2":0.1,"f3":0.1,"m3":0.1,"f4":0.1,"m4":0.05,"f5":0.05,"m5":0},
{"t":136,"f1":0.3,"m1":0.2,"f2":0.2,"m2":0.1,"f3":0.2,"m3":0.1,"f4":0.1,"m4":0.1,"f5":0.05,"m5":0},
{"t":137,"f1":0.1,"m1":0.1,"f2":0.1,"m2":0.05,"f3":0.1,"m3":0.05,"f4":0.05,"m4":0,"f5":0,"m5":0},
{"t":138,"f1":-0.2,"m1":-0.1,"f2":-0.1,"m2":-0.1,"f3":-0.1,"m3":-0.05,"f4":-0.05,"m4":0,"f5":-0.05,"m5":0},
{"t":139,"f1":-0.1,"m1":-0.1,"f2":-0.1,"m2":0,"f3":-0.1,"m3":0,"f4":0,"m4":0,"f5":0,"m5":0},
{"t":140,"f1":0.1,"m1":0.05,"f2":0.05,"m2":0,"f3":0.05,"m3":0,"f4":0.05,"m4":0,"f5":0.05,"m5":0},
{"t":142,"f1":-0.05,"m1":0,"f2":-0.05,"m2":0,"f3":-0.05,"m3":0,"f4":-0.05,"m4":0,"f5":-0.05,"m5":0},
{"t":145,"f1":0.03,"m1":0,"f2":0.03,"m2":0,"f3":0.03,"m3":0,"f4":0.03,"m4":0,"f5":0.03,"m5":0},
{"t":150,"f1":-0.02,"m1":0,"f2":-0.02,"m2":0,"f3":-0.02,"m3":0,"f4":-0.02,"m4":0,"f5":-0.02,"m5":0},
{"t":155,"f1":0.02,"m1":0,"f2":0.02,"m2":0,"f3":0.02,"m3":0,"f4":0.02,"m4":0,"f5":0.02,"m5":0},
{"t":160,"f1":-0.02,"m1":0,"f2":-0.02,"m2":0,"f3":-0.02,"m3":0,"f4":-0.02,"m4":0,"f5":-0.02,"m5":0},
{"t":165,"f1":0.01,"m1":0,"f2":0.01,"m2":0,"f3":0.01,"m3":0,"f4":0.01,"m4":0,"f5":0.01,"m5":0},
{"t":170,"f1":0,"m1":0,"f2":0,"m2":0,"f3":0,"m3":0,"f4":0,"m4":0,"f5":0,"m5":0}
]
},
"concat": [
{
 "width": 476, "height": 124,
 "title": {"text": "Response CH1 NRMSE=0.53 It:2", "offset": -5},
 "data": {"name": "d"},
 "encoding": {"x": {"field": "t", "type": "quantitative", "scale": {"domain": [0, 200], "nice": false}, "axis": {"title": "Time [s]", "values": [0, 50, 100, 150, 200], "gridOpacity": {"condition": {"test": "datum.value == 0 || datum.value == 200", "value": 0}, "value": 1}}}},
 "layer": [
  {"mark": {"type": "line", "strokeWidth": 2.5, "clip": true, "color": "#0000ff"},
   "encoding": {"y": {"field": "f1", "type": "quantitative", "scale": {"domain": [-10, 10], "nice": false}, "axis": {"title": "A [m/s2]", "values": [-10, 0, 10], "labelExpr": "'' + datum.value", "gridOpacity": {"condition": {"test": "datum.value == -10 || datum.value == 10", "value": 0}, "value": 1}}}}},
  {"mark": {"type": "line", "strokeWidth": 1.6, "clip": true, "color": "#000000", "strokeDash": [13, 6]},
   "encoding": {"y": {"field": "m1", "type": "quantitative", "title": "A [m/s2]"}}}
 ]
},
{
 "width": 476, "height": 124,
 "title": {"text": "Response CH2 NRMSE=0.5 It:2", "offset": 1},
 "data": {"name": "d"},
 "encoding": {"x": {"field": "t", "type": "quantitative", "scale": {"domain": [0, 200], "nice": false}, "axis": {"title": "Time [s]", "values": [0, 50, 100, 150, 200], "gridOpacity": {"condition": {"test": "datum.value == 0 || datum.value == 200", "value": 0}, "value": 1}}}},
 "layer": [
  {"mark": {"type": "line", "strokeWidth": 2.5, "clip": true, "color": "#0000ff"},
   "encoding": {"y": {"field": "f2", "type": "quantitative", "scale": {"domain": [-6.6, 5.6], "nice": false}, "axis": {"title": "A [m/s2]", "values": [-5, 0, 5], "labelExpr": "'' + datum.value"}}}},
  {"mark": {"type": "line", "strokeWidth": 1.6, "clip": true, "color": "#000000", "strokeDash": [13, 6]},
   "encoding": {"y": {"field": "m2", "type": "quantitative", "title": "A [m/s2]"}}}
 ]
},
{
 "width": 476, "height": 124,
 "title": {"text": "Response CH3 NRMSE=0.52 It:2", "offset": 2.5},
 "data": {"name": "d"},
 "encoding": {"x": {"field": "t", "type": "quantitative", "scale": {"domain": [0, 200], "nice": false}, "axis": {"title": "Time [s]", "values": [0, 50, 100, 150, 200], "gridOpacity": {"condition": {"test": "datum.value == 0 || datum.value == 200", "value": 0}, "value": 1}}}},
 "layer": [
  {"mark": {"type": "line", "strokeWidth": 2.5, "clip": true, "color": "#0000ff"},
   "encoding": {"y": {"field": "f3", "type": "quantitative", "scale": {"domain": [-10, 6], "nice": false}, "axis": {"title": "A [m/s2]", "values": [-10, -5, 0, 5], "labelExpr": "'' + datum.value", "gridOpacity": {"condition": {"test": "datum.value == -10", "value": 0}, "value": 1}}}}},
  {"mark": {"type": "line", "strokeWidth": 1.6, "clip": true, "color": "#000000", "strokeDash": [13, 6]},
   "encoding": {"y": {"field": "m3", "type": "quantitative", "title": "A [m/s2]"}}}
 ]
},
{
 "width": 476, "height": 124,
 "title": {"text": "Response CH4 NRMSE=0.56 It:2", "offset": 7},
 "data": {"name": "d"},
 "transform": [{"fold": ["f4", "m4"], "as": ["series", "A"]}],
 "mark": {"type": "line", "clip": true},
 "encoding": {
  "x": {"field": "t", "type": "quantitative", "scale": {"domain": [0, 200], "nice": false}, "axis": {"title": "Time [s]", "values": [0, 50, 100, 150, 200], "gridOpacity": {"condition": {"test": "datum.value == 0 || datum.value == 200", "value": 0}, "value": 1}}},
  "y": {"field": "A", "type": "quantitative", "scale": {"domain": [-5.65, 6.85], "nice": false}, "axis": {"title": "A [m/s2]", "values": [-5, 0, 5], "labelExpr": "'' + datum.value"}},
  "color": {"field": "series", "type": "nominal", "scale": {"domain": ["f4", "m4"], "range": ["#0000ff", "#000000"]},
   "legend": {"orient": "none", "legendX": 630, "legendY": 441, "title": null, "labelExpr": "datum.value == 'f4' ? 'y final' : 'y measured'", "symbolType": "M-4,0H4", "symbolSize": 441, "symbolOffset": 31.5, "labelOffset": 37, "labelFontSize": 21.5, "labelColor": "#000000", "labelFont": "Liberation Sans", "strokeColor": "#262626", "padding": 10, "rowPadding": 5, "fillColor": "#ffffff", "encode": {"legend": {"update": {"strokeWidth": {"value": 4}}}}}},
  "strokeDash": {"field": "series", "type": "nominal", "scale": {"domain": ["f4", "m4"], "range": [[1, 0], [13, 6]]},
   "legend": {"orient": "none", "legendX": 630, "legendY": 441, "title": null, "labelExpr": "datum.value == 'f4' ? 'y final' : 'y measured'", "symbolType": "M-4,0H4", "symbolSize": 441, "symbolOffset": 31.5, "labelOffset": 37, "labelFontSize": 21.5, "labelColor": "#000000", "labelFont": "Liberation Sans", "strokeColor": "#262626", "padding": 10, "rowPadding": 5, "fillColor": "#ffffff", "encode": {"legend": {"update": {"strokeWidth": {"value": 4}}}}}},
  "strokeWidth": {"field": "series", "type": "nominal", "scale": {"domain": ["f4", "m4"], "range": [2.5, 1.6]}, "legend": null}
 }
},
{
 "width": 476, "height": 124,
 "title": {"text": "Response CH5 NRMSE=0.65 It:2", "offset": -3},
 "data": {"name": "d"},
 "encoding": {"x": {"field": "t", "type": "quantitative", "scale": {"domain": [0, 200], "nice": false}, "axis": {"title": "Time [s]", "values": [0, 50, 100, 150, 200], "gridOpacity": {"condition": {"test": "datum.value == 0 || datum.value == 200", "value": 0}, "value": 1}}}},
 "layer": [
  {"mark": {"type": "line", "strokeWidth": 2.5, "clip": true, "color": "#0000ff"},
   "encoding": {"y": {"field": "f5", "type": "quantitative", "scale": {"domain": [-5.35, 5.15], "nice": false}, "axis": {"title": "A [m/s2]", "values": [-5, 0, 5], "labelExpr": "'' + datum.value"}}}},
  {"mark": {"type": "line", "strokeWidth": 1.6, "clip": true, "color": "#000000", "strokeDash": [13, 6]},
   "encoding": {"y": {"field": "m5", "type": "quantitative", "title": "A [m/s2]"}}}
 ]
}
]
}
